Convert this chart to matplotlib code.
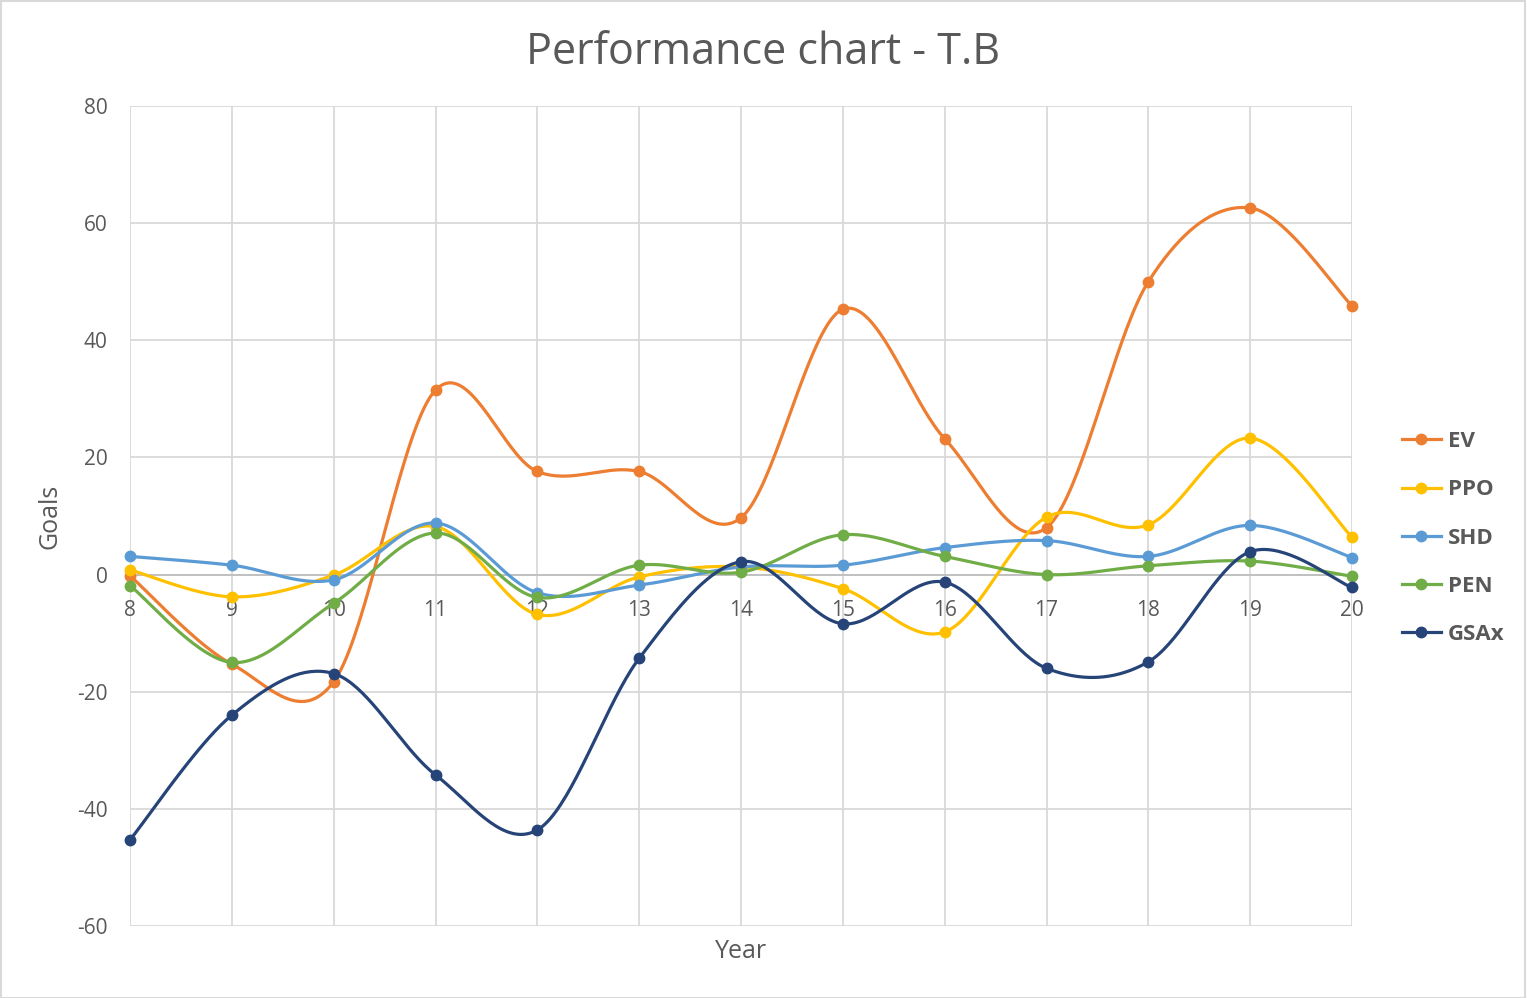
import matplotlib
matplotlib.use("Agg")
import matplotlib.pyplot as plt
from matplotlib.lines import Line2D
from matplotlib.patches import Rectangle
import numpy as np

plt.rcParams["axes.unicode_minus"] = False

years = ["8", "9", "10", "11", "12", "13", "14", "15", "16", "17", "18", "19", "20"]
ev = [-0.2, -15.3, -18.3, 31.5, 17.6, 17.6, 9.7, 45.3, 23.2, 8.0, 50.0, 62.6, 45.9]
ppo = [0.8, -3.8, -0.1, 8.2, -6.8, -0.4, 1.3, -2.4, -9.8, 9.8, 8.5, 23.3, 6.4]
shd = [3.1, 1.6, -0.9, 8.8, -3.1, -1.8, 1.3, 1.6, 4.6, 5.8, 3.1, 8.4, 2.9]
pen = [-1.9, -15.0, -4.9, 7.1, -3.9, 1.6, 0.4, 6.8, 3.1, 0.0, 1.5, 2.3, -0.3]
gsax = [-45.3, -24.0, -16.9, -34.2, -43.6, -14.3, 2.2, -8.4, -1.3, -16.0, -14.9, 3.9, -2.2]

names = ["EV", "PPO", "SHD", "PEN", "GSAx"]
series = [ev, ppo, shd, pen, gsax]
colors = ["#ED7D31", "#FFC000", "#5B9BD5", "#70AD47", "#264478"]

FONT = ["Open Sans", "DejaVu Sans"]
TXT = "#595959"


def smooth(x, y, n=40):
    x = np.asarray(x, float)
    y = np.asarray(y, float)
    m = len(x)
    xs, ys = [], []
    for i in range(m - 1):
        p0 = np.array([x[max(i - 1, 0)], y[max(i - 1, 0)]])
        p1 = np.array([x[i], y[i]])
        p2 = np.array([x[i + 1], y[i + 1]])
        p3 = np.array([x[min(i + 2, m - 1)], y[min(i + 2, m - 1)]])
        c1 = p1 + (p2 - p0) / 6.0
        c2 = p2 - (p3 - p1) / 6.0
        t = np.linspace(0, 1, n)[:, None]
        pts = ((1 - t) ** 3) * p1 + 3 * ((1 - t) ** 2) * t * c1 + 3 * (1 - t) * t ** 2 * c2 + t ** 3 * p2
        xs.append(pts[:, 0])
        ys.append(pts[:, 1])
    return np.concatenate(xs), np.concatenate(ys)


fig = plt.figure(figsize=(15.27, 9.98), dpi=100)
ax = fig.add_axes([130 / 1527, 1 - 926 / 998, (1352 - 130) / 1527, (926 - 106) / 998])

xpos = np.arange(len(years))
for vals, c, name in zip(series, colors, names):
    sx, sy = smooth(xpos, vals)
    ax.plot(sx, sy, color=c, lw=2.3, solid_capstyle="round", zorder=3, clip_on=False)
    ax.plot(xpos, vals, linestyle="none", marker="o", ms=7.5, color=c, zorder=4, clip_on=False)

ax.set_xlim(0, len(years) - 1)
ax.set_ylim(-60, 80)
ax.set_yticks(np.arange(-60, 81, 20))
ax.set_xticks(xpos)
ax.set_xticklabels(years)
ax.grid(True, color="#D9D9D9", lw=1.3, zorder=0)
ax.set_axisbelow(True)
for s in ["top", "right", "left"]:
    ax.spines[s].set_visible(False)
ax.spines["bottom"].set_position(("data", 0))
ax.spines["bottom"].set_color("#BFBFBF")
ax.spines["bottom"].set_linewidth(1.3)
ax.spines["bottom"].set_zorder(1)
ax.tick_params(axis="both", length=0, labelsize=15, labelcolor=TXT)
ax.tick_params(axis="x", pad=18)
ax.tick_params(axis="y", pad=16)
for lab in ax.get_xticklabels() + ax.get_yticklabels():
    lab.set_family(FONT)

fig.text(741 / 1527, 1 - 952 / 998, "Year", ha="center", va="center", fontsize=18,
         color=TXT, family=FONT)
fig.text(50 / 1527, 1 - 516 / 998, "Goals", ha="center", va="center", fontsize=18,
         color=TXT, family=FONT, rotation=90)
fig.text(763 / 1527, 1 - 53 / 998, "Performance chart - T.B", ha="center", va="center",
         fontsize=31, color=TXT, family=FONT)

handles = [Line2D([0], [0], color=c, lw=2.3, marker="o", ms=7.5) for c in colors]
leg = fig.legend(handles, names, loc="center left", bbox_to_anchor=(1382 / 1527, 1 - 538 / 998),
                 frameon=False, handlelength=1.75, handletextpad=0.3, labelspacing=1.22,
                 prop={"family": FONT, "weight": "bold", "size": 16})
for t in leg.get_texts():
    t.set_color(TXT)

fig.patches.append(Rectangle((0.0005, 0.0005), 0.998, 0.998, transform=fig.transFigure,
                             fill=False, edgecolor="#D9D9D9", lw=1.5))

fig.savefig("out.png", dpi=100, facecolor="white")
